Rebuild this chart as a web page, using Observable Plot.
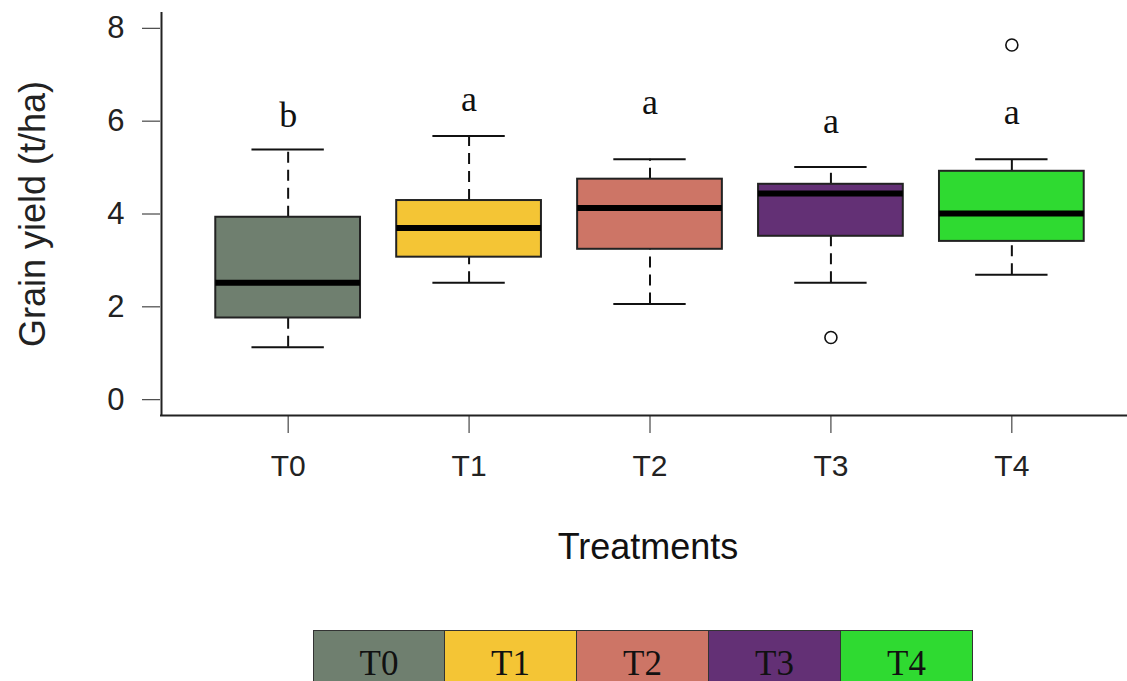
<!DOCTYPE html>
<html>
<head>
<meta charset="utf-8">
<script src="https://cdn.jsdelivr.net/npm/d3@7"></script>
<script src="https://cdn.jsdelivr.net/npm/@observablehq/plot@0.6"></script>
<style>
  html, body { margin: 0; padding: 0; background: #fff; overflow: hidden; }
  #legend { display: flex; margin-left: 313px; }
  #legend div {
    width: 132px; height: 60px; box-sizing: border-box;
    border: 1.5px solid #333; border-left: none;
    font-family: "Liberation Serif", "Times New Roman", serif;
    font-size: 35px; line-height: 35px; padding-top: 15px;
    text-align: center; color: #111;
  }
  #legend div:first-child { border-left: 1.5px solid #333; }
</style>
</head>
<body>
<div id="chart"></div>
<div id="legend"></div>
<script>
// ---- data ----
const treatments   = ["T0", "T1", "T2", "T3", "T4"];
const lowerWhisker = [1.13, 2.52, 2.06, 2.52, 2.69];
const q1           = [1.76, 3.07, 3.24, 3.52, 3.41];
const median       = [2.52, 3.70, 4.13, 4.44, 4.01];
const q3           = [3.93, 4.29, 4.75, 4.64, 4.92];
const upperWhisker = [5.39, 5.68, 5.18, 5.01, 5.18];
const outlierGroup = ["T3", "T4"];
const outlierValue = [1.34, 7.64];
const letters      = ["b", "a", "a", "a", "a"];
const letterY      = [5.87, 6.21, 6.16, 5.75, 5.93];
const yTicks       = [0, 2, 4, 6, 8];
const colors       = ["#6f7f6f", "#f4c535", "#cd7566", "#633075", "#2fda31"];

// ---- layout ----
const xDomain = [-0.7, 4.7];
const yDomain = [-0.34, 8.34];
const boxHalf = 0.4, capHalf = 0.2;

const stats = treatments.map((t, i) => ({
  t, i,
  lo: lowerWhisker[i], q1: q1[i], med: median[i], q3: q3[i], hi: upperWhisker[i],
  letter: letters[i], ly: letterY[i]
}));
const outliers = outlierGroup.map((g, k) => ({ i: treatments.indexOf(g), y: outlierValue[k] }));

const plot = Plot.plot({
  width: 1127,
  height: 630,
  marginLeft: 160,
  marginRight: 0,
  marginTop: 12,
  marginBottom: 215,
  style: { fontFamily: "'Liberation Sans', Arial, sans-serif", fontSize: "30px", color: "#222", background: "#fff" },
  x: {
    domain: xDomain, range: [161, 1138],
    ticks: treatments.map((_, i) => i),
    tickFormat: i => treatments[i],
    tickSize: 18, tickPadding: 21, label: null
  },
  y: {
    domain: yDomain,
    ticks: yTicks, tickSize: 18, tickPadding: 18, label: null
  },
  color: { domain: treatments, range: colors },
  marks: [
    // L-shaped frame
    Plot.ruleX([xDomain[0]], { stroke: "#222", strokeWidth: 2 }),
    Plot.ruleY([yDomain[0]], { stroke: "#222", strokeWidth: 2 }),
    // whiskers
    Plot.ruleX(stats, { x: "i", y1: "q3", y2: "hi", stroke: "#111", strokeWidth: 2, strokeDasharray: "11,7" }),
    Plot.ruleX(stats, { x: "i", y1: "lo", y2: "q1", stroke: "#111", strokeWidth: 2, strokeDasharray: "11,7" }),
    Plot.ruleY(stats, { y: "hi", x1: d => d.i - capHalf, x2: d => d.i + capHalf, stroke: "#111", strokeWidth: 2 }),
    Plot.ruleY(stats, { y: "lo", x1: d => d.i - capHalf, x2: d => d.i + capHalf, stroke: "#111", strokeWidth: 2 }),
    // boxes
    Plot.rect(stats, { x1: d => d.i - boxHalf, x2: d => d.i + boxHalf, y1: "q1", y2: "q3", fill: "t", stroke: "#222", strokeWidth: 2 }),
    // medians
    Plot.ruleY(stats, { y: "med", x1: d => d.i - boxHalf, x2: d => d.i + boxHalf, stroke: "#000", strokeWidth: 6 }),
    // outliers
    Plot.dot(outliers, { x: "i", y: "y", r: 6, stroke: "#111", fill: "#fff", strokeWidth: 1.6 }),
    // significance letters
    Plot.text(stats, { x: "i", y: "ly", text: "letter", lineAnchor: "bottom", fontSize: 36, fontFamily: "'Liberation Serif', 'Times New Roman', serif", fill: "#111" }),
    // axis titles
    Plot.text(["Grain yield (t/ha)"], { frameAnchor: "left", textAnchor: "middle", dx: -127, rotate: -90, fontSize: 36, fill: "#222" }),
    Plot.text(["Treatments"], { frameAnchor: "bottom", textAnchor: "middle", dx: 4, dy: 143, lineAnchor: "bottom", fontSize: 36, fill: "#111" })
  ]
});

// tick label sizes as in the reference
plot.querySelectorAll("[aria-label*='y-axis'] text").forEach(t => { t.setAttribute("font-size", "31"); t.style.fontSize = "31px"; });
plot.querySelectorAll("[aria-label*='x-axis'] text").forEach(t => { t.setAttribute("font-size", "30"); t.style.fontSize = "30px"; });

document.getElementById("chart").appendChild(plot);

const legend = document.getElementById("legend");
treatments.forEach((t, i) => {
  const cell = document.createElement("div");
  cell.textContent = t;
  cell.style.background = colors[i];
  legend.appendChild(cell);
});
</script>
</body>
</html>
